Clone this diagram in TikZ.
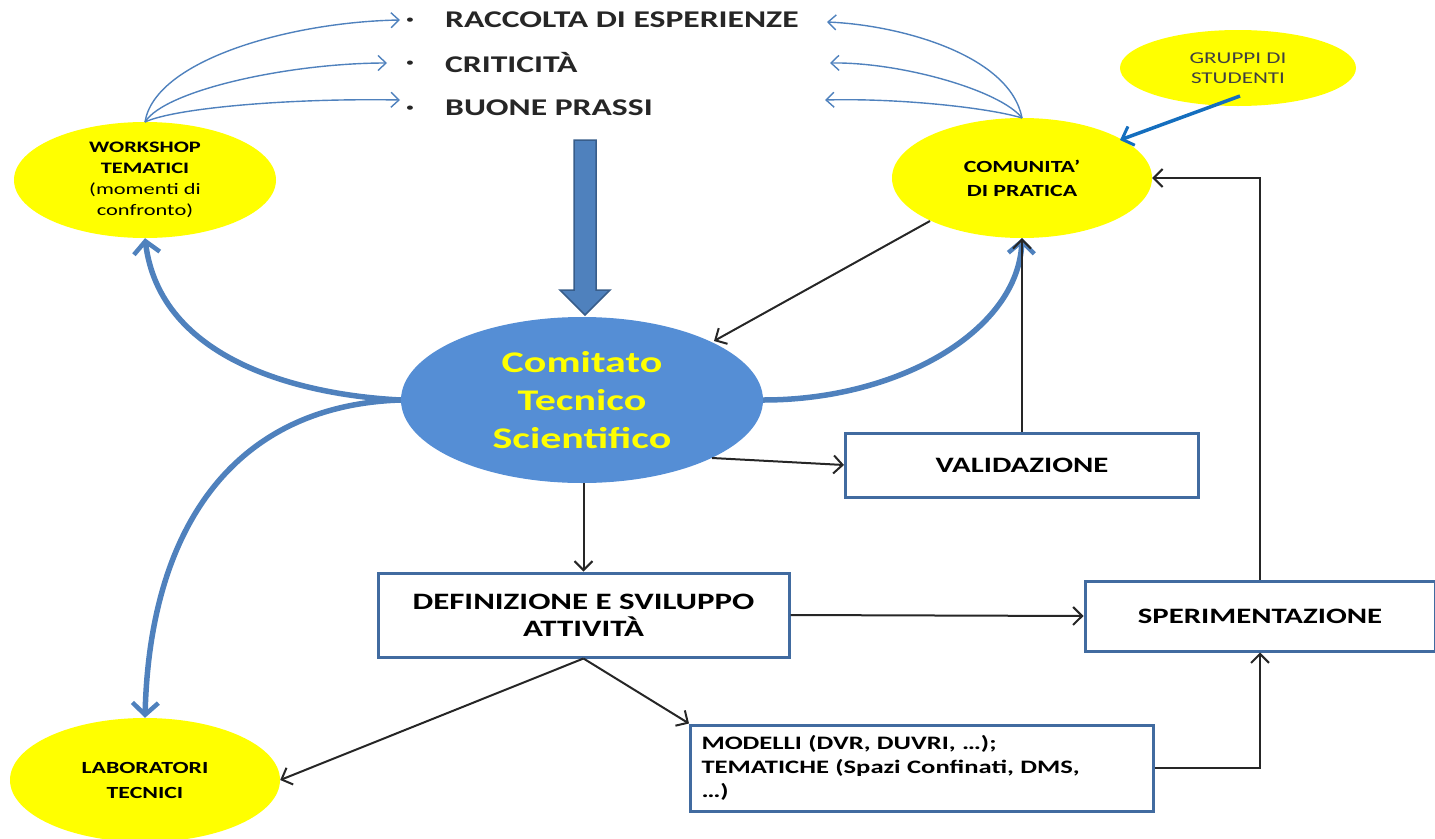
\documentclass[tikz,border=0pt]{standalone}
\usepackage{fontspec}
\setmainfont{Carlito}[FakeStretch=1.4]
\usetikzlibrary{shapes.geometric,arrows.meta}
\definecolor{cyel}{RGB}{255,255,0}
\definecolor{ctsfill}{RGB}{85,142,213}
\definecolor{thickblue}{RGB}{79,129,189}
\definecolor{thinblue}{RGB}{79,129,189}
\definecolor{boxborder}{RGB}{65,107,160}
\definecolor{gruppiarr}{RGB}{20,110,190}
\definecolor{arrowfill}{RGB}{79,129,189}
\definecolor{arrowedge}{RGB}{56,93,138}
\begin{document}
\begin{tikzpicture}[x=1pt,y=-1pt,
  yell/.style={ellipse,fill=cyel,draw=none,align=center,text=black,inner sep=0pt},
  bbox/.style={rectangle,draw=boxborder,line width=3pt,fill=white,align=center,inner sep=0pt},
  blk/.style={draw=black!85,line width=2pt,-{Straight Barb[length=9pt,width=18pt,line width=2pt]}},
  thin/.style={draw=thinblue,line width=1.4pt,-{Straight Barb[length=8pt,width=15pt,line width=1.4pt]}},
  thick/.style={draw=thickblue,line width=5.5pt,-{Straight Barb[length=12pt,width=26pt,line width=4.5pt]}},
  bul/.style={inner sep=0pt,font=\fontsize{12}{12}\selectfont,text=black!85},
  bultext/.style={anchor=west,inner sep=0pt,font=\bfseries\fontsize{24}{28}\selectfont,text=black!85}
]
\useasboundingbox (0,0) rectangle (1435,838);

% bullet list
\node[bul] (d1) at (410,21) {•};
\node[bul] (d2) at (410,64) {•};
\node[bul] (d3) at (410,109) {•};
\node[bultext] (b1) at (445,20) {RACCOLTA DI ESPERIENZE};
\node[bultext] (b2) at (445,63) {CRITICITÀ};
\node[bultext] (b3) at (445,108) {BUONE PRASSI};

% ellipses
\node[yell,minimum width=262pt,minimum height=116pt,font=\bfseries\fontsize{16}{21}\selectfont] (ws) at (145,180)
  {WORKSHOP\\TEMATICI\\{\mdseries(momenti di}\\{\mdseries confronto)}};
\node[yell,minimum width=260pt,minimum height=120pt,font=\bfseries\fontsize{17}{24}\selectfont] (cp) at (1022,178)
  {COMUNITA'\\DI PRATICA};
\node[yell,minimum width=236pt,minimum height=76pt,font=\fontsize{16.5}{20}\selectfont,text=black!75] (gs) at (1238,68)
  {GRUPPI DI\\STUDENTI};
\node[yell,minimum width=270pt,minimum height=124pt,font=\bfseries\fontsize{17}{25}\selectfont] (lt) at (145,780)
  {LABORATORI\\TECNICI};
\node[ellipse,fill=ctsfill,minimum width=362pt,minimum height=166pt,inner sep=0pt,align=center,text=cyel,font=\bfseries\fontsize{30}{38}\selectfont] (cts) at (582,400)
  {Comitato\\Tecnico\\Scientifico};

% boxes
\node[bbox,minimum width=353pt,minimum height=64pt,font=\bfseries\fontsize{22}{26}\selectfont] (val) at (1022,465) {VALIDAZIONE};
\node[bbox,minimum width=411pt,minimum height=84pt,font=\bfseries\fontsize{23.5}{27}\selectfont] (def) at (583.5,615) {DEFINIZIONE E SVILUPPO\\ATTIVITÀ};
\node[bbox,minimum width=350pt,minimum height=70pt,font=\bfseries\fontsize{22}{26}\selectfont] (sper) at (1260,616) {SPERIMENTAZIONE};
\node[bbox,minimum width=463pt,minimum height=86pt,font=\bfseries\fontsize{19}{24}\selectfont,align=left,text width=441pt] (mod) at (922,768)
  {MODELLI (DVR, DUVRI, …);\\TEMATICHE (Spazi Confinati, DMS,\\…)};

% block arrow
\draw[fill=arrowfill,draw=arrowedge,line width=1.5pt] (574,140) -- (596,140) -- (596,290) -- (610,290) -- (585,315) -- (560,290) -- (574,290) -- cycle;

% thin blue curves
\coordinate (wt) at (145,122);
\coordinate (ct) at (1022,118);
\draw[thin] (wt) .. controls (155,60) and (290,22) .. (400,20);
\draw[thin] (wt) .. controls (165,90) and (290,63) .. (387,63);
\draw[thin] (wt) .. controls (175,108) and (290,98) .. (400,100);
\draw[thin] (ct) .. controls (1010,55) and (900,25) .. (827,22);
\draw[thin] (ct) .. controls (1000,90) and (900,62) .. (830,63);
\draw[thin] (ct) .. controls (990,108) and (900,98) .. (825,100);

% gruppi arrow
\draw[draw=gruppiarr,line width=3.5pt,-{Straight Barb[length=10pt,width=20pt,line width=3pt]}] (1240,96) -- (1120,140);

% thick blue curves
\coordinate (cl) at (cts.west);
\draw[thick] (cl) .. controls (300,395) and (160,360) .. (ws.south);
\draw[thick] (cl) .. controls (240,405) and (150,520) .. (lt.north);
\draw[thick] (cts.east) .. controls (900,400) and (1018,330) .. (cp.south);

% black arrows
\coordinate (ctsin) at (714,341);
\coordinate (ctsout) at (712,458);
\draw[blk] (930,221) -- (ctsin);
\draw[blk] (val.north) -- (cp.south);
\draw[blk] (ctsout) -- (val.west);
\draw[blk] (def.north |- cts.south) -- (def.north);
\draw[blk] (def.east) -- (sper.west);
\draw[blk] (sper.north) |- (cp.east);
\draw[blk] (def.south) -- (lt.east);
\draw[blk] (def.south) -- (mod.north west);
\draw[blk] (mod.east) -| (sper.south);
\end{tikzpicture}
\end{document}
